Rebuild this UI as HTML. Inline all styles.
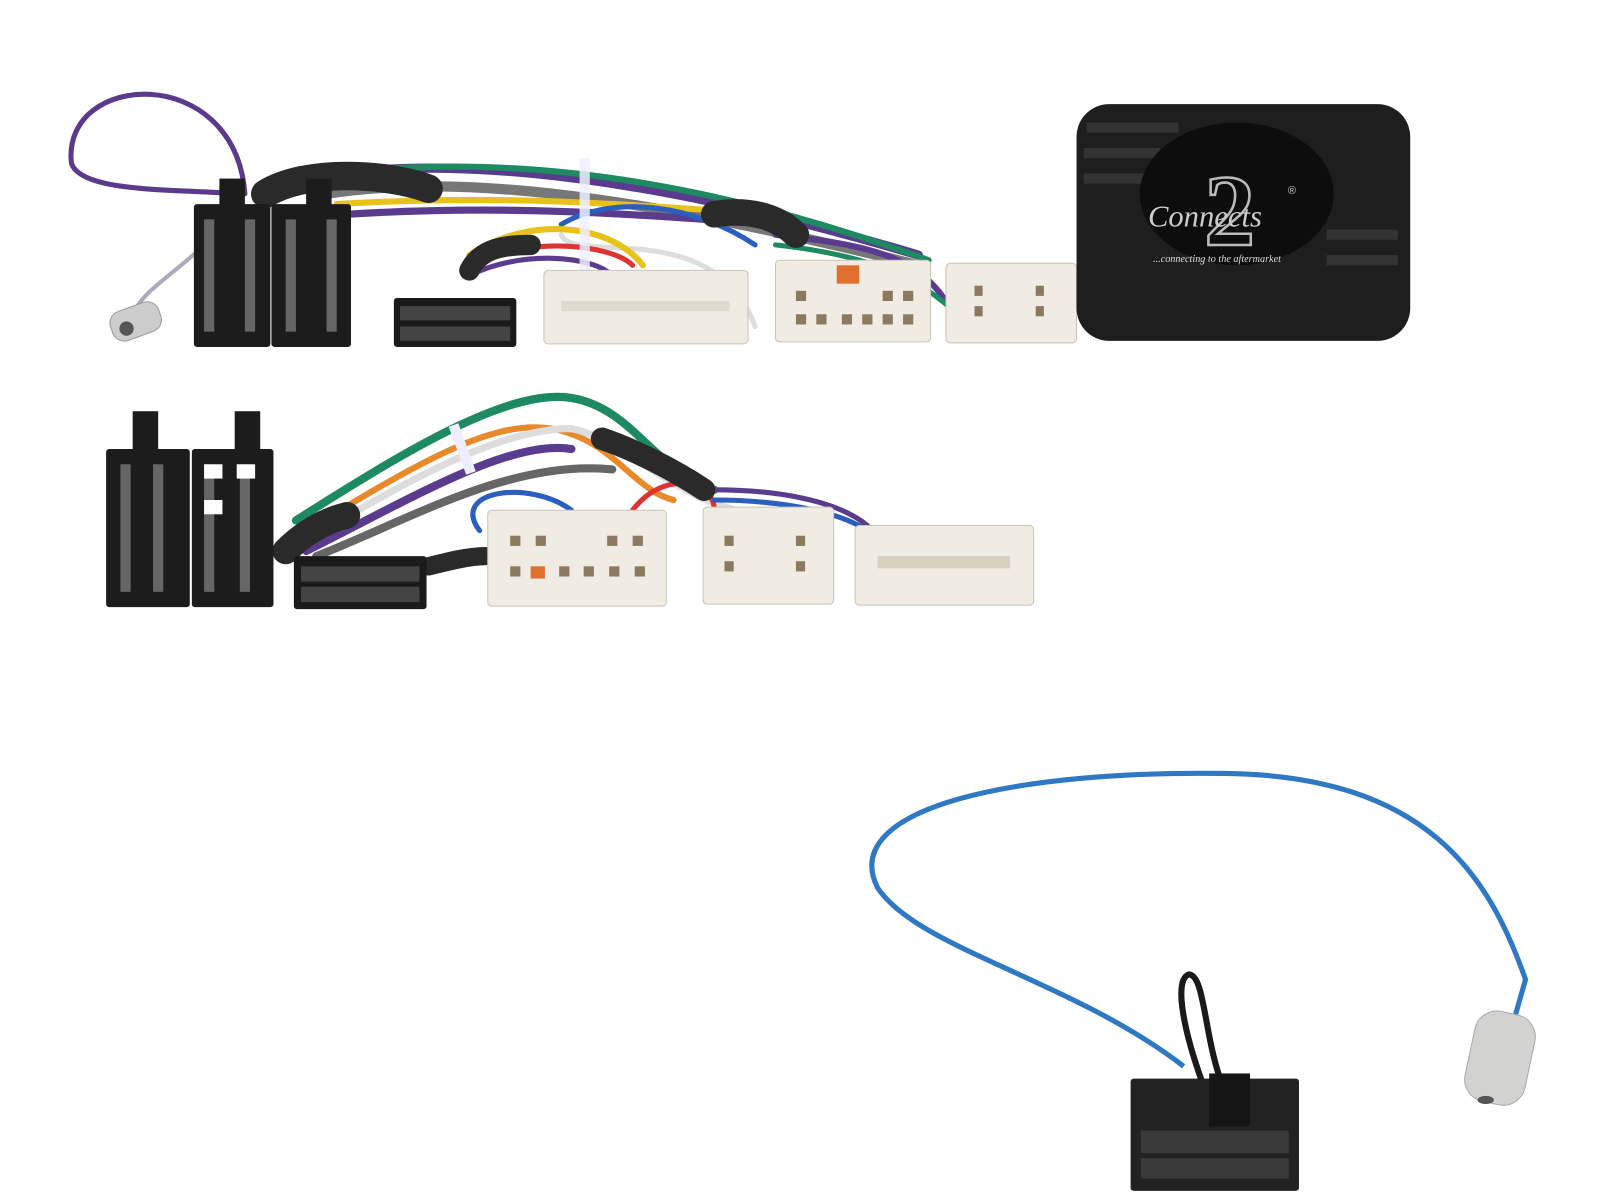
<!DOCTYPE html>
<html><head><meta charset="utf-8"><style>html,body{margin:0;padding:0;background:#fff}svg{display:block}</style></head>
<body>
<svg width="1600" height="1200" viewBox="0 0 1568 1176" preserveAspectRatio="none" xmlns="http://www.w3.org/2000/svg">
<rect width="1568" height="1176" fill="#fff"/>
<g fill="none" stroke-linecap="round">
<path d="M240 190 C230 60 60 70 70 160 C80 190 180 185 230 190" stroke="#5b3a8c" stroke-width="5"/>
<path d="M200 240 C170 270 130 290 130 315" stroke="#aab" stroke-width="4"/>
<path d="M280 180 C400 150 600 160 900 250" stroke="#5a3c8e" stroke-width="9"/>
<path d="M300 175 C450 150 650 160 910 255" stroke="#1e8a62" stroke-width="6"/>
<path d="M320 190 C450 170 620 190 900 260" stroke="#777" stroke-width="10"/>
<path d="M330 200 C500 190 600 200 760 210" stroke="#e8c21a" stroke-width="6"/>
<path d="M340 210 C500 200 620 210 760 220" stroke="#5a3c8e" stroke-width="7"/>
<path d="M550 220 C600 190 680 200 740 240" stroke="#2a5fc0" stroke-width="5"/>
<path d="M550 230 C560 260 700 210 740 320" stroke="#ddd" stroke-width="5"/>
<path d="M460 250 C520 210 600 220 630 260" stroke="#e8c21a" stroke-width="6"/>
<path d="M460 260 C520 230 600 240 620 260" stroke="#d33" stroke-width="5"/>
<path d="M460 270 C510 245 580 250 600 270" stroke="#5a3c8e" stroke-width="5"/>
<path d="M760 230 C850 240 900 250 930 300" stroke="#5a3c8e" stroke-width="6"/>
<path d="M760 240 C850 250 900 270 940 310" stroke="#1e8a62" stroke-width="5"/>
<path d="M260 190 C300 165 380 170 420 185" stroke="#2a2a2a" stroke-width="28"/>
<path d="M700 210 C730 205 760 210 780 230" stroke="#2a2a2a" stroke-width="26"/>
<path d="M460 265 C470 245 490 240 520 240" stroke="#2a2a2a" stroke-width="20"/>
</g>
<rect x="568" y="155" width="10" height="110" fill="#eef" opacity=".85"/>
<rect x="108" y="300" width="50" height="30" rx="12" fill="#ccc" stroke="#999" transform="rotate(-20 133 315)"/>
<circle cx="124" cy="322" r="7" fill="#555"/>
<g fill="#1c1c1c">
<rect x="190" y="200" width="75" height="140" rx="3"/><rect x="266" y="200" width="78" height="140" rx="3"/>
<rect x="215" y="175" width="25" height="30"/><rect x="300" y="175" width="25" height="30"/>
</g>
<g fill="#666"><rect x="200" y="215" width="10" height="110"/><rect x="240" y="215" width="10" height="110"/><rect x="280" y="215" width="10" height="110"/><rect x="320" y="215" width="10" height="110"/></g>
<rect x="386" y="292" width="120" height="48" rx="3" fill="#1a1a1a"/>
<g fill="#444"><rect x="392" y="300" width="108" height="14"/><rect x="392" y="320" width="108" height="14"/></g>
<rect x="533" y="265" width="200" height="72" rx="4" fill="#f0ece4" stroke="#c9c4b8"/>
<rect x="550" y="295" width="165" height="10" fill="#e0dace"/>
<rect x="760" y="255" width="152" height="80" rx="4" fill="#f0ece4" stroke="#c9c4b8"/>
<rect x="927" y="258" width="128" height="78" rx="4" fill="#f0ece4" stroke="#c9c4b8"/>
<rect x="820" y="260" width="22" height="18" fill="#e07030"/>
<g fill="#8a7a60"><rect x="780" y="285" width="10" height="10"/><rect x="865" y="285" width="10" height="10"/><rect x="885" y="285" width="10" height="10"/><rect x="780" y="308" width="10" height="10"/><rect x="800" y="308" width="10" height="10"/><rect x="825" y="308" width="10" height="10"/><rect x="845" y="308" width="10" height="10"/><rect x="865" y="308" width="10" height="10"/><rect x="885" y="308" width="10" height="10"/><rect x="955" y="280" width="8" height="10"/><rect x="1015" y="280" width="8" height="10"/><rect x="955" y="300" width="8" height="10"/><rect x="1015" y="300" width="8" height="10"/></g>
<rect x="1055" y="102" width="327" height="232" rx="32" fill="#1e1e1e"/>
<g fill="#333"><rect x="1065" y="120" width="90" height="10"/><rect x="1062" y="145" width="75" height="10"/><rect x="1062" y="170" width="60" height="10"/><rect x="1300" y="225" width="70" height="10"/><rect x="1300" y="250" width="70" height="10"/></g>
<ellipse cx="1212" cy="190" rx="95" ry="70" fill="#0d0d0d"/>
<text x="1205" y="240" font-family="Liberation Serif, serif" font-weight="bold" font-size="100" fill="none" stroke="#bbb" stroke-width="2.5" text-anchor="middle">2</text>
<text x="1125" y="222" font-family="Liberation Serif, serif" font-style="italic" font-size="30" fill="#ccc">Connects</text>
<text x="1262" y="190" font-family="Liberation Sans, sans-serif" font-size="11" fill="#ccc">®</text>
<text x="1130" y="257" font-family="Liberation Serif, serif" font-style="italic" font-size="10" fill="#ddd">...connecting to the aftermarket</text>
<g fill="none" stroke-linecap="round">
<path d="M290 510 C400 440 500 380 560 390 C620 400 640 460 700 480" stroke="#1e8a62" stroke-width="8"/>
<path d="M300 520 C400 460 480 410 540 420 C600 430 620 480 660 490" stroke="#e88a2a" stroke-width="6"/>
<path d="M300 530 C400 470 490 420 560 420 C610 430 650 480 720 500" stroke="#ddd" stroke-width="7"/>
<path d="M300 540 C400 490 500 430 560 440" stroke="#5a3c8e" stroke-width="8"/>
<path d="M310 545 C400 510 500 450 600 460" stroke="#666" stroke-width="8"/>
<path d="M470 520 C440 480 520 470 560 500" stroke="#2a5fc0" stroke-width="5"/>
<path d="M620 500 C650 460 700 470 700 500" stroke="#d33" stroke-width="5"/>
<path d="M700 490 C760 490 820 500 850 520" stroke="#2a5fc0" stroke-width="5"/>
<path d="M700 480 C760 480 820 490 850 515" stroke="#5a3c8e" stroke-width="5"/>
<path d="M280 540 C300 520 320 510 340 505" stroke="#2a2a2a" stroke-width="26"/>
<path d="M590 430 C620 440 660 460 690 480" stroke="#2a2a2a" stroke-width="22"/>
<path d="M420 555 C440 550 460 545 475 545" stroke="#2a2a2a" stroke-width="18"/>
</g>
<rect x="448" y="415" width="10" height="50" fill="#eef" transform="rotate(-20 453 440)"/>
<g fill="#1c1c1c">
<rect x="104" y="440" width="82" height="155" rx="3"/><rect x="188" y="440" width="80" height="155" rx="3"/>
<rect x="130" y="403" width="25" height="40"/><rect x="230" y="403" width="25" height="40"/>
</g>
<g fill="#666"><rect x="118" y="455" width="10" height="125"/><rect x="150" y="455" width="10" height="125"/><rect x="200" y="455" width="10" height="125"/><rect x="235" y="455" width="10" height="125"/></g>
<g fill="#fff"><rect x="200" y="455" width="18" height="14"/><rect x="232" y="455" width="18" height="14"/><rect x="200" y="490" width="18" height="14"/></g>
<rect x="288" y="545" width="130" height="52" rx="3" fill="#1a1a1a"/>
<g fill="#444"><rect x="295" y="555" width="116" height="15"/><rect x="295" y="575" width="116" height="15"/></g>
<rect x="478" y="500" width="175" height="94" rx="4" fill="#f0ece4" stroke="#c9c4b8"/>
<rect x="689" y="497" width="128" height="95" rx="4" fill="#f0ece4" stroke="#c9c4b8"/>
<rect x="838" y="515" width="175" height="78" rx="4" fill="#f0ece4" stroke="#c9c4b8"/>
<rect x="520" y="555" width="14" height="12" fill="#e07030"/>
<g fill="#8a7a60"><rect x="500" y="525" width="10" height="10"/><rect x="525" y="525" width="10" height="10"/><rect x="595" y="525" width="10" height="10"/><rect x="620" y="525" width="10" height="10"/><rect x="500" y="555" width="10" height="10"/><rect x="548" y="555" width="10" height="10"/><rect x="572" y="555" width="10" height="10"/><rect x="597" y="555" width="10" height="10"/><rect x="622" y="555" width="10" height="10"/><rect x="710" y="525" width="9" height="10"/><rect x="780" y="525" width="9" height="10"/><rect x="710" y="550" width="9" height="10"/><rect x="780" y="550" width="9" height="10"/></g>
<rect x="860" y="545" width="130" height="12" fill="#d8d0c0"/>
<path d="M1160 1045 C1050 960 900 930 860 870 C820 790 1000 755 1200 758 C1400 760 1460 860 1495 960 L1485 995" fill="none" stroke="#2e78c4" stroke-width="5"/>
<path d="M1178 1060 C1160 1010 1150 960 1165 955 C1180 955 1180 1010 1195 1055" fill="none" stroke="#1a1a1a" stroke-width="6"/>
<rect x="1440" y="992" width="60" height="90" rx="22" fill="#d2d2d0" stroke="#aaa" transform="rotate(12 1470 1037)"/>
<ellipse cx="1456" cy="1078" rx="8" ry="4" fill="#555"/>
<rect x="1108" y="1057" width="165" height="110" rx="3" fill="#222"/>
<rect x="1185" y="1052" width="40" height="52" fill="#151515"/>
<g fill="#3a3a3a"><rect x="1118" y="1108" width="145" height="22"/><rect x="1118" y="1135" width="145" height="20"/></g>
</svg>
</body></html>
